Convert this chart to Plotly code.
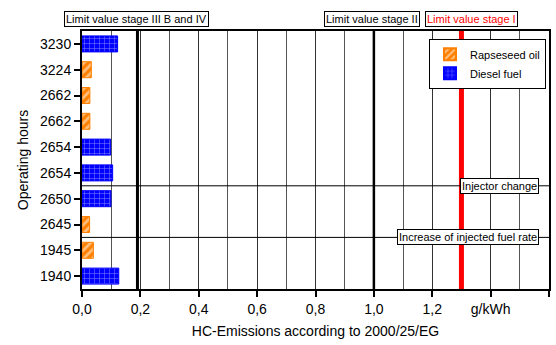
import plotly.graph_objects as go

# Data (bottom to top)
hours = ["1940", "1945", "2645", "2650", "2654", "2654", "2662", "2662", "3224", "3230"]
fuel = ["Diesel", "Rapeseed", "Rapeseed", "Diesel", "Diesel", "Diesel", "Rapeseed", "Rapeseed", "Rapeseed", "Diesel"]
hc = [0.126, 0.039, 0.026, 0.099, 0.105, 0.098, 0.027, 0.027, 0.032, 0.122]

x_tickvals = [0.0, 0.2, 0.4, 0.6, 0.8, 1.0, 1.2, 1.4, 1.6]
x_ticktext = ["0,0", "0,2", "0,4", "0,6", "0,8", "1,0", "1,2", "g/kWh", "1,6"]

limits = [0.19, 1.0, 1.3]
limit_labels = ["Limit value stage III B and IV", "Limit value stage II", "Limit value stage I"]
events = [3.5, 1.5]
event_labels = ["Injector change", "Increase of injected fuel rate"]

pos = list(range(len(hours)))

rx = [p for p, f in zip(pos, fuel) if f == "Rapeseed"]
rv = [v for v, f in zip(hc, fuel) if f == "Rapeseed"]
dx = [p for p, f in zip(pos, fuel) if f == "Diesel"]
dv = [v for v, f in zip(hc, fuel) if f == "Diesel"]

fig = go.Figure()
fig.add_trace(go.Bar(
    y=rx, x=rv, orientation="h", name="Rapseseed oil", width=0.62,
    marker=dict(color="#FF8000", line=dict(color="#FF8000", width=1),
                pattern=dict(shape="/", fgcolor="white", bgcolor="#FF8000", size=6, solidity=0.45)),
))
fig.add_trace(go.Bar(
    y=dx, x=dv, orientation="h", name="Diesel fuel", width=0.62,
    marker=dict(color="#0000FF", line=dict(color="#0000FF", width=1),
                pattern=dict(shape="+", fgcolor="white", bgcolor="#0000FF", size=5, solidity=0.2)),
))

# Limit lines
fig.add_shape(type="line", x0=limits[0], x1=limits[0], y0=0, y1=1, yref="paper", line=dict(color="black", width=3))
fig.add_shape(type="line", x0=limits[1], x1=limits[1], y0=0, y1=1, yref="paper", line=dict(color="black", width=2.5))
fig.add_shape(type="line", x0=limits[2], x1=limits[2], y0=0, y1=1, yref="paper", line=dict(color="#FF0000", width=5))

# Event lines
for e in events:
    fig.add_shape(type="line", x0=0, x1=1, xref="paper", y0=e, y1=e, line=dict(color="black", width=1))

font_ann = dict(family="Liberation Sans, Arial", size=11, color="black")
top_x = [0.185, 0.994, 1.335]
for i, (lx, lab) in enumerate(zip(top_x, limit_labels)):
    fig.add_annotation(x=lx, y=1.045, xref="x", yref="paper", text=lab, showarrow=False,
                       font=dict(family="Liberation Sans, Arial", size=11,
                                 color="#FF0000" if i == 2 else "black"),
                       bgcolor="white", bordercolor="black", borderwidth=1, borderpad=1,
                       xanchor="center", yanchor="middle")

for e, lab in zip(events, event_labels):
    fig.add_annotation(x=1.565, y=e, xref="x", yref="y", text=lab, showarrow=False,
                       font=font_ann, bgcolor="white", bordercolor="black", borderwidth=1,
                       borderpad=1, xanchor="right", yanchor="middle")

fig.update_layout(
    width=556, height=345,
    margin=dict(l=82, r=7, t=31, b=56, autoexpand=False),
    plot_bgcolor="white", paper_bgcolor="white",
    font=dict(family="Liberation Sans, Arial", size=14, color="black"),
    barmode="overlay",
    legend=dict(x=0.743, y=0.97, xanchor="left", yanchor="top",
                bgcolor="white", bordercolor="black", borderwidth=1,
                font=dict(size=11), tracegroupgap=0, itemwidth=30,
                itemsizing="constant"),
    xaxis=dict(range=[0, 1.6], tickvals=x_tickvals, ticktext=x_ticktext,
               showgrid=True, gridcolor="#333", gridwidth=1,
               minor=dict(tickvals=[0.1, 0.3, 0.5, 0.7, 0.9, 1.1, 1.3, 1.5], showgrid=True,
                          gridcolor="#555", gridwidth=1, ticks=""),
               showline=True, linecolor="black", linewidth=2, mirror=True,
               ticks="outside", ticklen=6, tickwidth=2, tickcolor="black",
               title=dict(text="HC-Emissions according to 2000/25/EG", font=dict(size=14), standoff=10),
               zeroline=False, automargin=False),
    yaxis=dict(range=[-0.5, 9.5], tickvals=pos, ticktext=hours,
               showgrid=False, showline=True, linecolor="black", linewidth=2, mirror=True,
               ticks="outside", ticklen=6, tickwidth=2, tickcolor="black",
               title=dict(text="Operating hours", font=dict(size=14), standoff=8),
               zeroline=False, automargin=False),
    showlegend=True,
)

fig.write_html("out.html", config={"displayModeBar": False},
               post_script="document.body.style.margin='0px';document.body.style.padding='0px';")
